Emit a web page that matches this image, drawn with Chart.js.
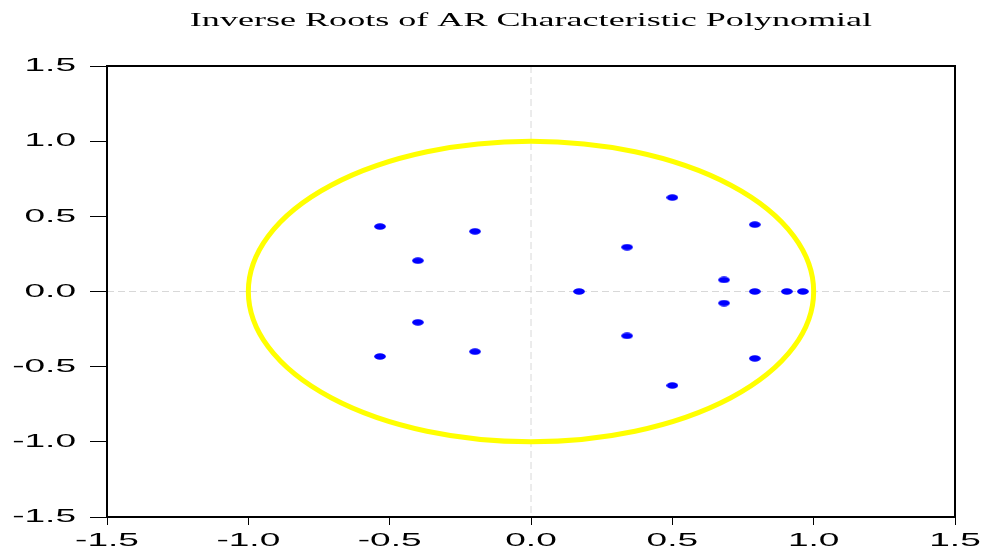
<!DOCTYPE html>
<html>
<head>
<meta charset="utf-8">
<script src="https://cdn.jsdelivr.net/npm/chart.js@4"></script>
<style>
  html, body { margin: 0; padding: 0; background: #fff; }
  #wrap { width: 981px; height: 549px; }
</style>
</head>
<body>
<div id="wrap"><canvas id="roots"></canvas></div>
<script>
// Inverse roots of the AR characteristic polynomial (real, imaginary)
const TITLE = 'Inverse Roots of AR Characteristic Polynomial';
const ROOT_RE = [-0.534, -0.534, -0.40, -0.40, -0.198, -0.198, 0.17, 0.34, 0.34,
                 0.50, 0.50, 0.683, 0.683, 0.792, 0.792, 0.792, 0.905, 0.962];
const ROOT_IM = [0.432, -0.432, 0.205, -0.205, 0.40, -0.40, 0.0, 0.295, -0.295,
                 0.625, -0.625, 0.077, -0.077, 0.445, -0.445, 0.0, 0.0, 0.0];
const TICKS = [-1.5, -1.0, -0.5, 0.0, 0.5, 1.0, 1.5];
const UNIT_RADIUS = 1;

// the reference image is stretched sideways, so stretch the glyphs the same way
const TEXT_STRETCH = 1.95;
const canvas = document.getElementById('roots');
const ctx = canvas.getContext('2d');
const rawFill = ctx.fillText.bind(ctx);
const rawMeasure = ctx.measureText.bind(ctx);
ctx.measureText = t => {
  const m = rawMeasure(t);
  return {
    width: m.width * TEXT_STRETCH,
    actualBoundingBoxAscent: m.actualBoundingBoxAscent,
    actualBoundingBoxDescent: m.actualBoundingBoxDescent
  };
};
ctx.fillText = (t, x, y) => {
  ctx.save();
  ctx.translate(x, y);
  ctx.scale(TEXT_STRETCH, 1);
  rawFill(t, 0, 0);
  ctx.restore();
};

// flat blue dot, wider than tall
function dot() {
  const c = document.createElement('canvas');
  c.width = 12; c.height = 7;
  const g = c.getContext('2d');
  g.fillStyle = '#0000ff';
  g.beginPath();
  g.ellipse(6, 3.5, 5.8, 3.2, 0, 0, Math.PI * 2);
  g.fill();
  return c;
}

const frame = {
  id: 'frame',
  beforeDatasetsDraw(chart) {
    const { ctx, chartArea: a, scales: { x, y } } = chart;
    const x0 = x.getPixelForValue(0), y0 = y.getPixelForValue(0);
    ctx.save();
    // zero lines
    ctx.strokeStyle = '#d8d8d8';
    ctx.lineWidth = 1;
    ctx.setLineDash([7, 4]);
    ctx.beginPath();
    ctx.moveTo(x0, a.top); ctx.lineTo(x0, a.bottom);
    ctx.moveTo(a.left, y0); ctx.lineTo(a.right, y0);
    ctx.stroke();
    ctx.setLineDash([]);
    // unit circle
    ctx.strokeStyle = '#ffff00';
    ctx.lineWidth = 5;
    ctx.beginPath();
    ctx.ellipse(x0, y0,
      x.getPixelForValue(UNIT_RADIUS) - x0,
      y0 - y.getPixelForValue(UNIT_RADIUS), 0, 0, Math.PI * 2);
    ctx.stroke();
    ctx.restore();
  },
  afterDraw(chart) {
    const { ctx, chartArea: a } = chart;
    ctx.save();
    ctx.strokeStyle = '#000';
    ctx.lineWidth = 2;
    ctx.strokeRect(a.left, a.top, a.right - a.left, a.bottom - a.top);
    ctx.fillStyle = '#000';
    ctx.font = '18.5px "Liberation Serif", serif';
    ctx.textAlign = 'center';
    ctx.textBaseline = 'middle';
    ctx.fillText(TITLE, (a.left + a.right) / 2, 21);
    ctx.restore();
  }
};

const tickFont = { family: '"Liberation Sans", Arial, sans-serif', size: 19 };

new Chart(ctx, {
  type: 'scatter',
  data: {
    datasets: [{
      data: ROOT_RE.map((r, i) => ({ x: r, y: ROOT_IM[i] })),
      pointStyle: dot(),
      pointRadius: 5,
      pointHoverRadius: 5
    }]
  },
  options: {
    responsive: true,
    maintainAspectRatio: false,
    animation: false,
    layout: { padding: { top: 66, right: 26, left: 0, bottom: 0 } },
    plugins: { legend: { display: false }, tooltip: { enabled: false } },
    scales: {
      x: {
        min: -1.5, max: 1.5,
        afterBuildTicks: s => { s.ticks = TICKS.map(v => ({ value: v })); },
        afterFit: s => { s.height = 32; s.paddingLeft = 0; s.paddingRight = 0; },
        border: { display: false },
        grid: { drawOnChartArea: false, tickLength: 8, tickColor: '#000', tickWidth: 1 },
        ticks: { color: '#000', font: tickFont, padding: 4, maxRotation: 0,
                 callback: v => v.toFixed(1) }
      },
      y: {
        min: -1.5, max: 1.5,
        afterBuildTicks: s => { s.ticks = TICKS.map(v => ({ value: v })); },
        afterFit: s => { s.width = 107; s.paddingTop = 0; s.paddingBottom = 0; },
        border: { display: false },
        grid: { drawOnChartArea: false, tickLength: 17, tickColor: '#000', tickWidth: 1 },
        ticks: { color: '#000', font: tickFont, padding: 14,
                 callback: v => v.toFixed(1) }
      }
    }
  },
  plugins: [frame]
});
</script>
</body>
</html>
